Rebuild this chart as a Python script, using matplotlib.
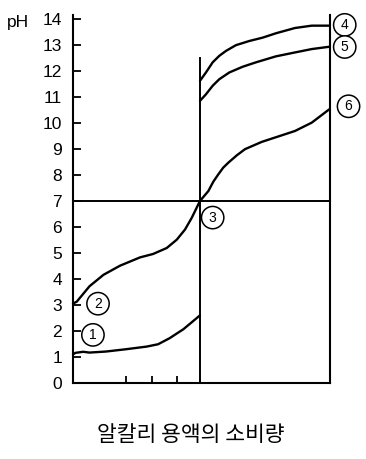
import matplotlib
matplotlib.use("Agg")
import matplotlib.pyplot as plt

# ---- data ----
ph_ticks = list(range(1, 15))
ph_labels = [str(v) for v in range(0, 15)]

c1_x = [0.0, 0.02, 0.08, 0.13, 0.26, 0.42, 0.58, 0.67, 0.76, 0.87, 1.0]
c1_y = [1.10, 1.16, 1.20, 1.17, 1.21, 1.30, 1.40, 1.49, 1.72, 2.07, 2.60]

c2_x = [0.0, 0.03, 0.13, 0.24, 0.37, 0.528, 0.63, 0.738, 0.817, 0.882, 0.935, 0.974, 1.0]
c2_y = [3.05, 3.13, 3.72, 4.16, 4.51, 4.83, 4.96, 5.19, 5.51, 5.90, 6.35, 6.74, 7.0]

c4_x = [1.0, 1.047, 1.10, 1.152, 1.205, 1.283, 1.388, 1.494, 1.60, 1.748, 1.88, 2.02]
c4_y = [11.62, 11.94, 12.33, 12.58, 12.77, 12.99, 13.15, 13.28, 13.45, 13.65, 13.74, 13.74]

c5_x = [1.0, 1.047, 1.10, 1.152, 1.231, 1.336, 1.441, 1.598, 1.748, 1.88, 2.02]
c5_y = [10.85, 11.10, 11.43, 11.68, 11.94, 12.16, 12.33, 12.56, 12.71, 12.84, 12.93]

c6_x = [1.0, 1.066, 1.105, 1.144, 1.183, 1.223, 1.289, 1.354, 1.486, 1.617, 1.748, 1.88, 2.02]
c6_y = [7.0, 7.38, 7.74, 8.02, 8.28, 8.47, 8.75, 8.99, 9.27, 9.48, 9.69, 10.01, 10.53]

label_text = ["1", "2", "3", "4", "5", "6"]
label_x = [0.157, 0.197, 1.10, 2.14, 2.14, 2.17]
label_y = [1.85, 3.05, 6.36, 13.77, 12.92, 10.64]

x_minor_ticks = [0.42, 0.62, 0.82]
equiv_x = 1.0
equiv_top = 12.5
neutral_ph = 7.0
x_max = 2.024
y_max = 14.15

title = "알칼리 용액의 소비량"

# ---- figure ----
fig = plt.figure(figsize=(3.66, 4.59), dpi=100)
ax = fig.add_axes([73 / 366, 1 - 383 / 459, (330 - 73) / 366, (383 - 15) / 459])
ax.set_xlim(0, x_max)
ax.set_ylim(0, y_max)

lw = 1.7
for xs, ys in [(c1_x, c1_y), (c2_x, c2_y), (c4_x, c4_y), (c5_x, c5_y), (c6_x, c6_y)]:
    ax.plot(xs, ys, color="black", lw=lw, solid_capstyle="round",
            solid_joinstyle="round", clip_on=False)

ax.plot([0, x_max], [neutral_ph, neutral_ph], color="black", lw=1.4)
ax.plot([equiv_x, equiv_x], [0, equiv_top], color="black", lw=1.4)

for s in ["left", "bottom", "right"]:
    ax.spines[s].set_linewidth(1.5)
ax.spines["top"].set_visible(False)

ax.set_yticks([0] + ph_ticks)
ax.set_yticklabels(ph_labels, fontfamily="Liberation Sans", fontsize=12.5)
ax.tick_params(axis="y", direction="in", length=6, width=1.3, pad=8, right=False)
ax.set_xticks(x_minor_ticks)
ax.set_xticklabels([])
ax.tick_params(axis="x", direction="in", length=5, width=1.3)

for t, x, y in zip(label_text, label_x, label_y):
    ax.text(x, y, t, ha="center", va="center", fontsize=10,
            fontfamily="Liberation Sans", clip_on=False,
            bbox=dict(boxstyle="circle,pad=0.3", fc="white", ec="black", lw=1.1))

fig.text(7 / 366, 1 - 27 / 459, "pH", fontsize=12.5, fontfamily="Liberation Sans",
         ha="left", va="baseline")
fig.text(191 / 366, 1 - 435 / 459, title, fontsize=15.5,
         fontfamily=["Noto Sans CJK KR", "DejaVu Sans"], ha="center", va="center")

fig.savefig("out.png", dpi=100)
